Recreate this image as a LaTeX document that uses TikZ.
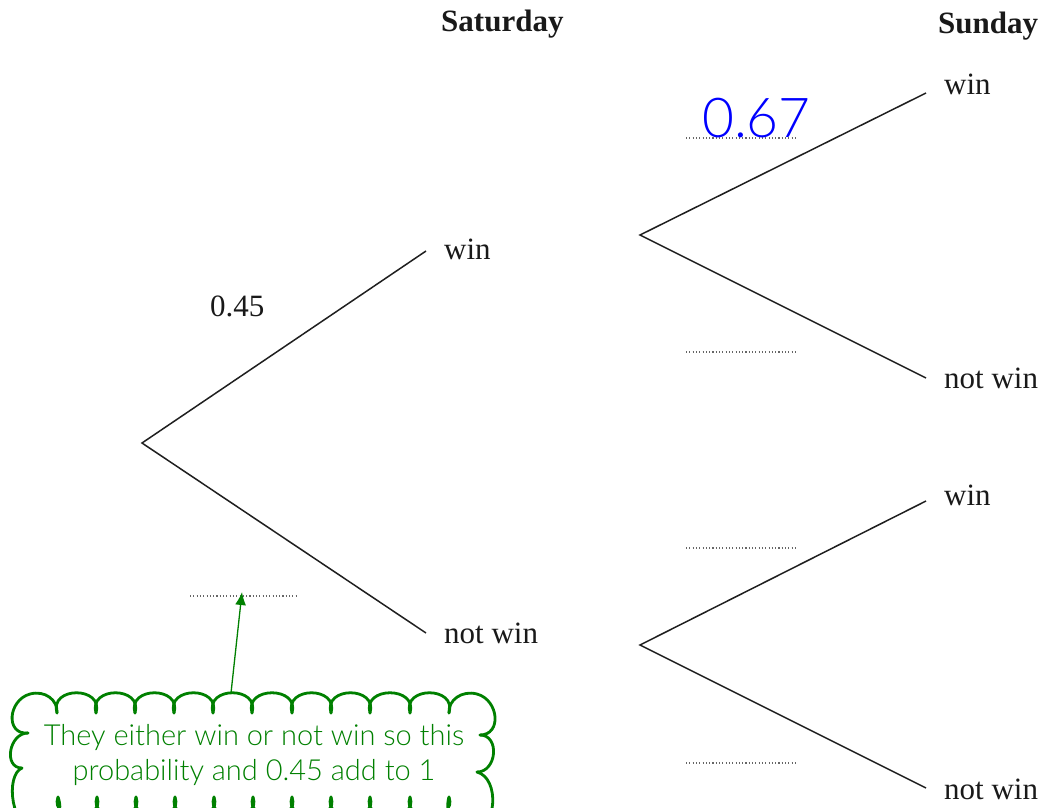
\documentclass[tikz,border=0pt]{standalone}
\usepackage{fontspec}
\setmainfont{Liberation Serif}
\IfFontExistsTF{Lato Light}{\newfontfamily\cloudfont{Lato Light}}{\newfontfamily\cloudfont{Lato}}
\usetikzlibrary{arrows.meta}
\definecolor{cgreen}{RGB}{0,128,0}
\definecolor{hblue}{RGB}{0,0,255}
\begin{document}
\begin{tikzpicture}[x=1pt,y=-1pt,
 branch/.style={line width=1.5pt, black!88},
 blank/.style={draw=black!60, line width=1.1pt, dash pattern=on 1.1pt off 2.2pt},
 lbl/.style={anchor=base west, inner sep=0pt, font=\fontsize{31}{31}\selectfont, text=black!90},
 hdr/.style={anchor=base west, inner sep=0pt, font=\fontsize{31}{31}\selectfont\bfseries, text=black!90},
 cloudline/.style={draw=cgreen, line width=2.8pt, line cap=round},
 cloudtext/.style={anchor=base, inner sep=0pt, text=cgreen, font=\cloudfont\fontsize{29}{29}\selectfont},
]
\useasboundingbox (0,0) rectangle (1046,807);

% headers
\node[hdr] (sat) at (441,31) {Saturday};
\node[hdr] (sun) at (938,33) {Sunday};

% tree points
\coordinate (root) at (142,443);
\coordinate (aw) at (426,251);
\coordinate (an) at (426,633);
\coordinate (bw) at (640,235);
\coordinate (bww) at (926,93);
\coordinate (bwn) at (926,378);
\coordinate (bn) at (640,645);
\coordinate (bnw) at (926,501);
\coordinate (bnn) at (926,788);

\draw[branch] (aw) -- (root) -- (an);
\draw[branch] (bww) -- (bw) -- (bwn);
\draw[branch] (bnw) -- (bn) -- (bnn);

% labels
\node[lbl] (lw) at (444,259) {win};
\node[lbl] (ln) at (444,643) {not win};
\node[lbl] (p1) at (210,316) {0.45};
\node[lbl] (rww) at (944,94) {win};
\node[lbl] (rwn) at (944,388) {not win};
\node[lbl] (rnw) at (944,505) {win};
\node[lbl] (rnn) at (944,799) {not win};

% blanks
\coordinate (d1a) at (686,138); \coordinate (d1b) at (797,138);
\coordinate (d2a) at (686,352); \coordinate (d2b) at (797,352);
\coordinate (d3a) at (686,548); \coordinate (d3b) at (797,548);
\coordinate (d4a) at (686,763); \coordinate (d4b) at (797,763);
\coordinate (d0a) at (190,596); \coordinate (d0b) at (298,596);
\foreach \n in {0,1,2,3,4} \draw[blank] (d\n a) -- (d\n b);

% handwritten answer
\node[anchor=base west, inner sep=0pt, text=hblue, font=\cloudfont\fontsize{55}{55}\selectfont] (ans) at (702,137) {0.67};

% annotation arrow
\coordinate (arrS) at (231,693);
\coordinate (arrE) at (242,592);
\draw[draw=cgreen, line width=1.3pt, -{Latex[length=13pt,width=11pt]}] (arrS) -- (arrE);

% cloud
\begin{scope}
\clip (0,0) rectangle (1046,807);
\foreach \a/\b in {57/96,96/135,135/174,174/213,213/252,252/292,292/331,331/370,370/410,410/449}
  \draw[cloudline] (\a,713) .. controls +(-8,-27) and +(8,-27) .. (\b,713);
\foreach \a/\b in {58/97,97/136,136/175,175/214,214/253,253/292,292/331,331/370,370/410,410/449}
  \draw[cloudline] (\a,797) .. controls +(-9,25) and +(9,25) .. (\b,797);
\draw[cloudline] (28,733) .. controls (5,735) and (8,700) .. (30,694) .. controls (45,690) and (58,700) .. (57,713);
\draw[cloudline] (449,713) .. controls (448,700) and (462,690) .. (477,694) .. controls (499,700) and (502,735) .. (480,735);
\draw[cloudline] (28,733) .. controls +(-19,0) and +(-19,0) .. (22,768);
\draw[cloudline] (480,735) .. controls +(20,0) and +(20,0) .. (477,772);
\draw[cloudline] (22,768) .. controls (5,775) and (10,830) .. (40,835) .. controls (55,835) and (64,812) .. (58,797);
\draw[cloudline] (477,772) .. controls (500,778) and (498,830) .. (470,835) .. controls (455,835) and (444,812) .. (449,797);
\end{scope}
\node[cloudtext] (ct1) at (254,745) {They either win or not win so this};
\node[cloudtext] (ct2) at (254,780) {probability and 0.45 add to 1};
\end{tikzpicture}
\end{document}
